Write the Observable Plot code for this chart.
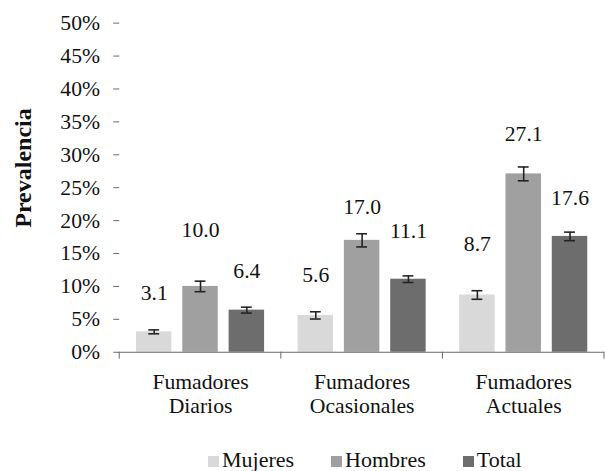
<!DOCTYPE html>
<html><head><meta charset="utf-8">
<script src="https://cdn.jsdelivr.net/npm/d3@7"></script>
<script src="https://cdn.jsdelivr.net/npm/@observablehq/plot@0.6"></script>
<style>
html,body{margin:0;padding:0;background:#fff;overflow:hidden;width:605px;height:471px}
#wrap{position:relative;width:605px;height:471px;font-family:"Liberation Serif",serif;color:#111;overflow:hidden}
#chart{position:absolute;left:0;top:0}
#ylab{position:absolute;left:23px;top:168px;transform:translate(-50%,-50%) rotate(-90deg);font-weight:bold;font-size:24px;white-space:nowrap;line-height:24px}
#legend{position:absolute;left:208px;top:449px;display:flex;gap:37px;font-size:22px;line-height:22px;white-space:nowrap}
#legend .item{display:flex;align-items:center}
#legend .sw{width:11px;height:11px;margin-right:3px;display:inline-block;position:relative;top:1px}
</style></head><body><div id="wrap"><div id="chart"></div><div id="ylab">Prevalencia</div><div id="legend"></div></div>
<script>
const groups = ["Fumadores Diarios", "Fumadores Ocasionales", "Fumadores Actuales"];
const groupLabels = ["Fumadores\nDiarios", "Fumadores\nOcasionales", "Fumadores\nActuales"];
const series = ["Mujeres", "Hombres", "Total"];
const mujeres = [3.1, 5.6, 8.7];
const hombres = [10.0, 17.0, 27.1];
const total = [6.4, 11.1, 17.6];
const errMujeres = [0.3, 0.55, 0.65];
const errHombres = [0.8, 1.0, 1.05];
const errTotal = [0.45, 0.5, 0.65];
// value-label positions (in % units) as placed in the original chart
const labelMujeres = [9.0, 11.7, 16.5];
const labelHombres = [18.6, 22.0, 33.2];
const labelTotal = [12.4, 18.4, 23.5];
const yTicks = [0, 5, 10, 15, 20, 25, 30, 35, 40, 45, 50];
const colors = ["#d9d9d9", "#a0a0a0", "#6d6d6d"];

const values = [mujeres, hombres, total];
const errs = [errMujeres, errHombres, errTotal];
const labs = [labelMujeres, labelHombres, labelTotal];
const rows = [];
groups.forEach((g, gi) => series.forEach((s, si) => {
  const v = values[si][gi], e = errs[si][gi];
  rows.push({group: g, series: s, value: v, lo: v - e, hi: v + e, labelY: labs[si][gi]});
}));

const font = "'Liberation Serif', serif";
const plot = Plot.plot({
  width: 614, height: 430,
  marginLeft: 120, marginRight: 0, marginTop: 23, marginBottom: 73,
  style: {fontFamily: font, fontSize: "22px", color: "#111", background: "transparent", overflow: "visible"},
  fx: {domain: groups, paddingInner: 0, paddingOuter: 0, label: null},
  x: {domain: series, paddingInner: 0.229, paddingOuter: 0.33, axis: null},
  y: {domain: [0, 50], label: null},
  color: {domain: series, range: colors},
  marks: [
    Plot.barY(rows, {fx: "group", x: "series", y: "value", fill: "series"}),
    Plot.ruleX(rows, {fx: "group", x: "series", y1: "lo", y2: "hi", stroke: "#222", strokeWidth: 1.6}),
    Plot.tickY(rows, {fx: "group", x: "series", y: "lo", stroke: "#222", strokeWidth: 1.6, insetLeft: 12.5, insetRight: 12.5}),
    Plot.tickY(rows, {fx: "group", x: "series", y: "hi", stroke: "#222", strokeWidth: 1.6, insetLeft: 12.5, insetRight: 12.5}),
    Plot.text(rows, {fx: "group", x: "series", y: "labelY", text: d => d.value.toFixed(1), fontSize: 22, fill: "#111"}),
    Plot.ruleY([0], {stroke: "#666"}),
    Plot.axisY({ticks: yTicks, tickFormat: d => d + "%", tickSize: 6, tickPadding: 14, line: true, stroke: "#666", fill: "#111", label: null, fontSize: 22}),
    Plot.axisFx({anchor: "bottom", tickSize: 0, tickPadding: 19, tickFormat: d => groupLabels[groups.indexOf(d)], label: null, fontSize: 22, lineHeight: 1.14, fill: "#111"})
  ]
});
document.getElementById("chart").appendChild(plot);

// category separator ticks on the x axis, positioned by the fx scale
const fx = plot.scale("fx"), ys = plot.scale("y");
const bounds = groups.map(g => fx.apply(g)).concat([fx.apply(groups[groups.length - 1]) + fx.bandwidth]);
const y0 = ys.apply(0);
d3.select(plot).append("g").selectAll("line").data(bounds).join("line")
  .attr("x1", d => d).attr("x2", d => d).attr("y1", y0).attr("y2", y0 + 7)
  .attr("stroke", "#666");

// legend
const leg = d3.select("#legend");
series.forEach((s, i) => {
  const it = leg.append("div").attr("class", "item");
  it.append("span").attr("class", "sw").style("background", colors[i]);
  it.append("span").text(s);
});
</script></body></html>
